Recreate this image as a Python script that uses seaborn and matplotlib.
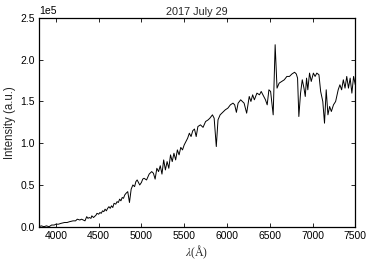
import matplotlib
matplotlib.use("Agg")
import matplotlib.pyplot as plt
import seaborn as sns
import numpy as np

wavelength = [3800, 3830, 3860, 3890, 3920, 3950, 3980, 4000, 4030, 4060, 4100, 4130, 4160, 4200,
              4230, 4250, 4280, 4300, 4320, 4340, 4360, 4375, 4390, 4410, 4420, 4440, 4450, 4470,
              4480, 4500, 4515, 4530, 4545, 4560, 4575, 4590, 4605, 4620, 4635, 4650, 4665, 4680,
              4700, 4715, 4730, 4745, 4760, 4775, 4790, 4805, 4820, 4840, 4860, 4880, 4900, 4920,
              4935, 4950, 4980, 5000, 5015, 5030, 5060, 5090, 5120,
              5140, 5160, 5180, 5200, 5220, 5240, 5260, 5280, 5300, 5320, 5340, 5360, 5380, 5400,
              5420, 5440, 5460, 5480, 5500, 5520, 5540, 5560, 5580, 5600, 5620, 5640, 5660, 5690,
              5720, 5750, 5780, 5800, 5830, 5850, 5875, 5895, 5920, 5950, 5980, 6010, 6040, 6070,
              6090, 6110, 6130, 6160, 6180, 6200, 6230, 6260, 6280, 6300, 6320, 6350, 6380, 6400,
              6420, 6450, 6470, 6490, 6510, 6540, 6563, 6585, 6610, 6640, 6670, 6700, 6730, 6760,
              6790, 6810, 6825, 6840, 6860, 6880, 6900, 6915, 6930, 6945, 6965, 6985, 7010, 7030,
              7050, 7075, 7095, 7120, 7140, 7160, 7180, 7200, 7220, 7245, 7270, 7300, 7320, 7340,
              7360, 7380, 7400, 7420, 7440, 7460, 7480, 7500]
intensity = [0.00, 0.01, 0.00, 0.01, 0.00, 0.02, 0.02, 0.03, 0.03, 0.04, 0.05, 0.05, 0.06, 0.07,
             0.07, 0.09, 0.08, 0.09, 0.08, 0.07, 0.12, 0.10, 0.11, 0.10, 0.13, 0.11, 0.12, 0.14,
             0.16, 0.15, 0.17, 0.16, 0.19, 0.18, 0.21, 0.19, 0.22, 0.24, 0.22, 0.25, 0.23, 0.28,
             0.27, 0.30, 0.29, 0.33, 0.31, 0.35, 0.34, 0.38, 0.40, 0.42, 0.29, 0.45, 0.50, 0.48,
             0.54, 0.56, 0.50, 0.53, 0.57, 0.58, 0.56, 0.63, 0.66,
             0.64, 0.57, 0.70, 0.66, 0.73, 0.63, 0.80, 0.68, 0.78, 0.70, 0.86, 0.78, 0.88, 0.80,
             0.92, 0.86, 0.95, 0.92, 0.98, 1.02, 1.06, 1.12, 1.08, 1.15, 1.17, 1.08, 1.20, 1.22,
             1.19, 1.26, 1.28, 1.30, 1.34, 1.30, 0.96, 1.28, 1.34, 1.37, 1.40, 1.42, 1.46, 1.48,
             1.46, 1.37, 1.48, 1.52, 1.50, 1.48, 1.36, 1.56, 1.50, 1.58, 1.52, 1.60, 1.58, 1.62,
             1.58, 1.52, 1.46, 1.64, 1.62, 1.34, 2.18, 1.66, 1.72, 1.74, 1.76, 1.80, 1.80, 1.83,
             1.85, 1.83, 1.78, 1.32, 1.60, 1.76, 1.66, 1.56, 1.78, 1.64, 1.84, 1.74, 1.84, 1.80,
             1.84, 1.82, 1.62, 1.50, 1.24, 1.64, 1.34, 1.44, 1.38, 1.46, 1.50, 1.64, 1.70, 1.64,
             1.76, 1.66, 1.80, 1.66, 1.78, 1.60, 1.80, 1.70]
scale = 1e5

sns.set_style("ticks")
plt.rcParams['font.family'] = ['Liberation Sans', 'DejaVu Sans']
plt.rcParams['mathtext.fontset'] = 'stix'

fig = plt.figure(figsize=(3.74, 2.64), dpi=100)
ax = fig.add_axes([0.1037, 0.1413, 0.8463, 0.7905])

sns.lineplot(x=np.array(wavelength), y=np.array(intensity) * scale, color='black',
             linewidth=0.7, ax=ax)

ax.set_xlim(3800, 7500)
ax.set_ylim(0, 2.5e5)
ax.set_xticks([4000, 4500, 5000, 5500, 6000, 6500, 7000, 7500])
ax.set_yticks([0, 0.5e5, 1.0e5, 1.5e5, 2.0e5, 2.5e5])
ax.ticklabel_format(axis='y', style='sci', scilimits=(0, 0))
ax.yaxis.get_offset_text().set_fontsize(7.5)
ax.tick_params(direction='in', length=3, width=0.6, top=True, right=True,
               labelsize=7.5, pad=3, colors='black')
for s in ax.spines.values():
    s.set_color('black')
    s.set_linewidth(0.9)
ax.set_title('2017 July 29', fontsize=7.8, pad=2)
ax.set_ylabel('Intensity (a.u.)', fontsize=8.3, labelpad=3)
ax.set_xlabel(r'$\lambda$(Å)', fontsize=8.5, labelpad=2,
              fontfamily=['Liberation Serif', 'DejaVu Serif'])

fig.savefig('out.png', dpi=100)
